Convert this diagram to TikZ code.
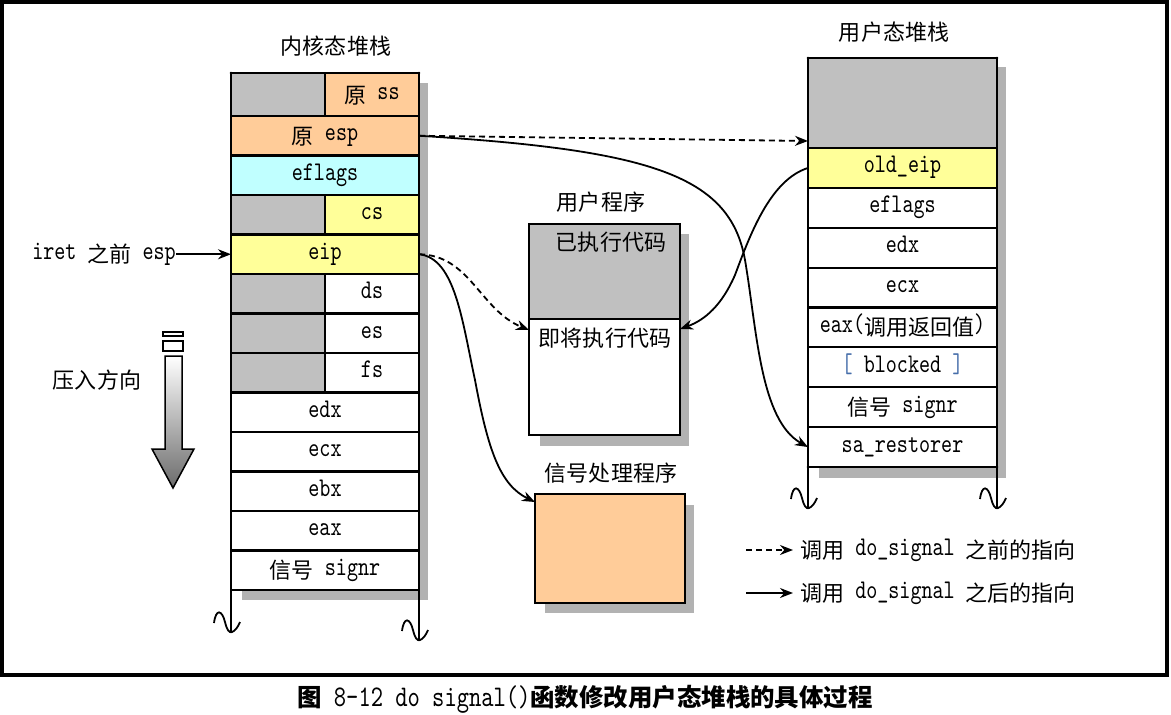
\documentclass[tikz,border=0pt]{standalone}
\usepackage{fontspec}
\newfontfamily\cjk{Noto Sans CJK SC}[Scale=0.815]
\newfontfamily\lat{lmmono10-regular.otf}[FakeStretch=0.78]
\usetikzlibrary{arrows.meta}

\definecolor{grayc}{RGB}{192,192,192}
\definecolor{orangec}{RGB}{255,204,153}
\definecolor{cyanc}{RGB}{192,255,255}
\definecolor{yellowc}{RGB}{255,255,153}
\definecolor{shadowc}{RGB}{178,178,178}
\definecolor{bracketc}{RGB}{70,110,170}

\newcommand\lbl{\fontsize{27}{30}\selectfont\lat}
\newcommand\zh[1]{\raisebox{-3.5pt}{\cjk #1}}
\newcommand\zhb[1]{{\cjk\bfseries #1}}

\tikzset{
  cell/.style={draw=black, line width=2.2pt, inner sep=0pt, outer sep=0pt,
    anchor=north west, font=\lbl, text height=12pt, text depth=2pt},
  edge/.style={line width=2.8pt, line cap=round},
  link/.style={line width=1.8pt, -{Stealth[length=13pt,width=10pt]}},
  before/.style={link, dash pattern=on 6pt off 4pt},
  title/.style={font=\lbl, inner sep=0pt, text height=12pt, text depth=2pt},
  wave/.pic={\draw[line width=1.8pt] (-17,-9) .. controls (-15,-24) and (-9,-22) .. (-6,-10)
     .. controls (-4,-2) and (-2,1) .. (1,0) .. controls (4,-1) and (7,-5) .. (9,-10);},
}

\begin{document}
\begin{tikzpicture}[x=1pt,y=-1pt]
\useasboundingbox (0,0) rectangle (1171,715);
\fill[white] (0,0) rectangle (1171,715);
\draw[line width=4pt] (2,2) rectangle (1167,675);

% ---------- kernel stack ----------
\node[title] (ktitle) at (336,46) {\zh{内核态堆栈}};
\fill[shadowc] (242,83) rectangle (428,600);
\node[cell, fill=grayc,   minimum width=94pt,  minimum height=43pt]   (k1a) at (231,73) {};
\node[cell, fill=orangec, minimum width=94pt,  minimum height=43pt]   (k1)  at (325,73) {\zh{原} ss};
\node[cell, fill=orangec, minimum width=188pt, minimum height=39.5pt] (k2)  at (231,116) {\zh{原} esp};
\node[cell, fill=cyanc,   minimum width=188pt, minimum height=39.5pt] (k3)  at (231,155.5) {eflags};
\node[cell, fill=grayc,   minimum width=94pt,  minimum height=39.5pt] (k4a) at (231,195) {};
\node[cell, fill=yellowc, minimum width=94pt,  minimum height=39.5pt] (k4)  at (325,195) {cs};
\node[cell, fill=yellowc, minimum width=188pt, minimum height=39.5pt] (k5)  at (231,234.5) {eip};
\node[cell, fill=grayc,   minimum width=94pt,  minimum height=39.5pt] (k6a) at (231,274) {};
\node[cell, fill=white,   minimum width=94pt,  minimum height=39.5pt] (k6)  at (325,274) {ds};
\node[cell, fill=grayc,   minimum width=94pt,  minimum height=39.5pt] (k7a) at (231,313.5) {};
\node[cell, fill=white,   minimum width=94pt,  minimum height=39.5pt] (k7)  at (325,313.5) {es};
\node[cell, fill=grayc,   minimum width=94pt,  minimum height=39.5pt] (k8a) at (231,353) {};
\node[cell, fill=white,   minimum width=94pt,  minimum height=39.5pt] (k8)  at (325,353) {fs};
\node[cell, fill=white,   minimum width=188pt, minimum height=39.5pt] (k9)  at (231,392.5) {edx};
\node[cell, fill=white,   minimum width=188pt, minimum height=39.5pt] (k10) at (231,432) {ecx};
\node[cell, fill=white,   minimum width=188pt, minimum height=39.5pt] (k11) at (231,471.5) {ebx};
\node[cell, fill=white,   minimum width=188pt, minimum height=39.5pt] (k12) at (231,511) {eax};
\node[cell, fill=white,   minimum width=188pt, minimum height=39.5pt] (k13) at (231,550.5) {\zh{信号} signr};
\draw[edge] (k1a.north west) -- (k1.north east);
\draw[edge] (k1a.north west) -- ++(0,559);
\draw[edge] (k1.north east) -- ++(0,567);
\pic at (231,632) {wave};
\pic at (419,640) {wave};

% push direction
\node[font=\lbl, inner sep=0pt] (push) at (97,380) {\zh{压入方向}};
\draw[fill=white, line width=1.5pt] (163,332) rectangle (183,336);
\draw[fill=white, line width=1.5pt] (163,341) rectangle (183,351);
\shadedraw[top color=white, bottom color=black!58, line width=1.5pt, line join=miter]
  (165,356) -- (182,356) -- (182,449) -- (194,449) -- (173,488) -- (152,449) -- (165,449) -- cycle;

% iret pointer
\node[title, anchor=east] (iret) at (176,254.25) {iret \zh{之前} esp};
\draw[link] (iret.east) -- (k5.west);

% ---------- user program ----------
\node[title] (ptitle) at (601,202) {\zh{用户程序}};
\fill[shadowc] (540,234) rectangle (689,446);
\node[cell, fill=grayc, minimum width=151pt, minimum height=95pt]  (p1) at (529,224) {};
\node[cell, fill=white, minimum width=151pt, minimum height=116pt] (p2) at (529,319) {};
\node[title] (done) at (611,242) {\zh{已执行代码}};
\node[title] (next) at (605,338) {\zh{即将执行代码}};

% ---------- signal handler ----------
\node[title] (htitle) at (611,473) {\zh{信号处理程序}};
\fill[shadowc] (545,505) rectangle (694,613);
\node[cell, fill=orangec, minimum width=150pt, minimum height=109pt] (h) at (535,494) {};

% ---------- user stack ----------
\node[title] (utitle) at (894,32) {\zh{用户态堆栈}};
\fill[shadowc] (819,67) rectangle (1006,478);
\node[cell, fill=grayc,   minimum width=189pt, minimum height=90pt]     (u0) at (808,58) {};
\node[cell, fill=yellowc, minimum width=189pt, minimum height=39.875pt] (u1) at (808,148) {old\_eip};
\node[cell, fill=white,   minimum width=189pt, minimum height=39.875pt] (u2) at (808,187.875) {eflags};
\node[cell, fill=white,   minimum width=189pt, minimum height=39.875pt] (u3) at (808,227.75) {edx};
\node[cell, fill=white,   minimum width=189pt, minimum height=39.875pt] (u4) at (808,267.625) {ecx};
\node[cell, fill=white,   minimum width=189pt, minimum height=39.875pt] (u5) at (808,307.5) {eax(\zh{调用返回值})};
\node[cell, fill=white,   minimum width=189pt, minimum height=39.875pt] (u6) at (808,347.375) {\textcolor{bracketc}{[} blocked \textcolor{bracketc}{]}};
\node[cell, fill=white,   minimum width=189pt, minimum height=39.875pt] (u7) at (808,387.25) {\zh{信号} signr};
\node[cell, fill=white,   minimum width=189pt, minimum height=39.875pt] (u8) at (808,427.125) {sa\_restorer};
\draw[edge] (u0.north west) -- (u0.north east);
\draw[edge] (u8.south west) -- (u8.south east);
\draw[edge] (u0.north west) -- ++(0,450);
\draw[edge] (u0.north east) -- ++(0,450);
\pic at (808,508) {wave};
\pic at (997,508) {wave};

% ---------- pointers ----------
\draw[before] (k2.east) -- ([yshift=7pt]u0.south west);
\draw[link] (k2.east) .. controls (650,150) and (730,175) .. (745,260)
  .. controls (757,330) and (760,420) .. (u8.west);
\draw[before] (k5.east) .. controls (470,255) and (480,310) .. ([yshift=-11pt]p2.north west);
\draw[link] (k5.east) .. controls (455,258) and (462,320) .. (475,380)
  .. controls (488,450) and (500,485) .. ([yshift=-8pt]h.north west);
\draw[link] (u1.west) .. controls (770,180) and (750,235) .. (735,275)
  .. controls (722,305) and (705,320) .. ([yshift=-10pt]p2.north east);

% ---------- legend ----------
\coordinate (la) at (746,550);
\coordinate (lb) at (746,593);
\draw[before] (la) -- ++(47,0);
\draw[link] (lb) -- ++(47,0);
\node[title, anchor=west] (lta) at (800,550) {\zh{调用} do\_signal \zh{之前的指向}};
\node[title, anchor=west] (ltb) at (800,593) {\zh{调用} do\_signal \zh{之后的指向}};

% ---------- caption ----------
\node[inner sep=0pt, font=\fontsize{30}{32}\selectfont\lat] (cap) at (585,699)
  {\zhb{图} 8-12 do signal()\zhb{函数修改用户态堆栈的具体过程}};
\end{tikzpicture}
\end{document}
